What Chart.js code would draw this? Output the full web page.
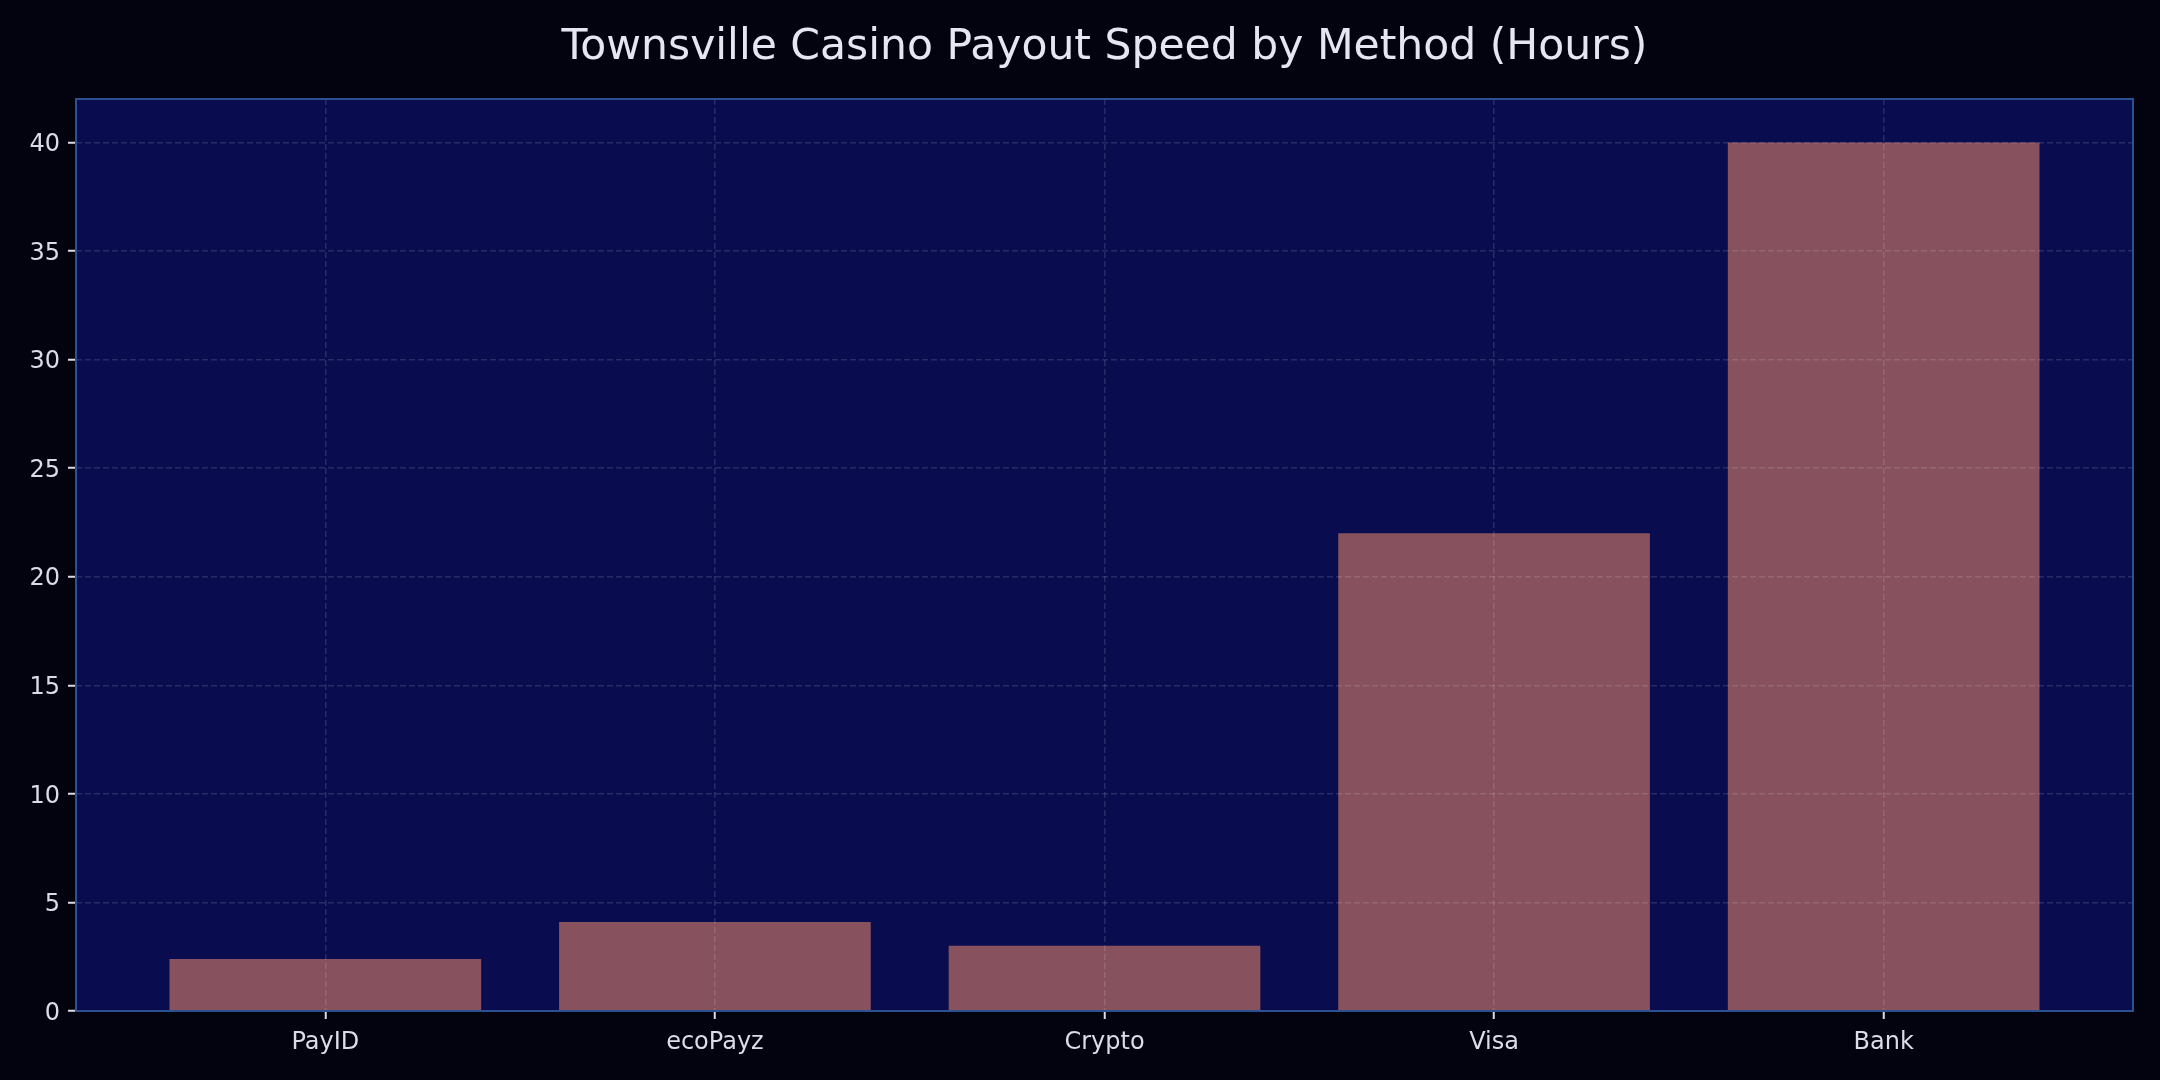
<!DOCTYPE html>
<html>
<head>
<meta charset="utf-8">
<title>Townsville Casino Payout Speed by Method</title>
<script src="https://cdn.jsdelivr.net/npm/chart.js@4.4.1/dist/chart.umd.min.js"></script>
<style>
  html, body { margin: 0; padding: 0; background: #03030f; }
  #chart { display: block; }
</style>
</head>
<body>
<canvas id="chart" width="2160" height="1080"></canvas>
<script>
// Data
const methods = ['PayID', 'ecoPayz', 'Crypto', 'Visa', 'Bank'];
const payoutHours = [2.4, 4.1, 3.0, 22, 40];
const yTicks = [0, 5, 10, 15, 20, 25, 30, 35, 40];

const FONT = "'DejaVu Sans', sans-serif";
const TEXT = '#dcdce8';
const FRAME = '#2c5190';
const GRID = 'rgba(255, 255, 255, 0.13)';

// Plot background + frame around the axes area
const plotFrame = {
  id: 'plotFrame',
  beforeDraw(chart) {
    const { ctx, chartArea: a } = chart;
    ctx.save();
    ctx.fillStyle = '#0a0c50';
    ctx.fillRect(a.left, a.top, a.right - a.left, a.bottom - a.top);
    ctx.restore();
  },
  afterDraw(chart) {
    const { ctx, chartArea: a } = chart;
    ctx.save();
    ctx.strokeStyle = FRAME;
    ctx.lineWidth = 2;
    ctx.strokeRect(a.left, a.top, a.right - a.left, a.bottom - a.top);
    ctx.restore();
  }
};

new Chart(document.getElementById('chart'), {
  type: 'bar',
  data: {
    datasets: [{
      data: methods.map((m, i) => ({ x: i, y: payoutHours[i] })),
      backgroundColor: '#87525e',
      borderWidth: 0,
      barPercentage: 0.8,
      categoryPercentage: 1.0
    }]
  },
  options: {
    responsive: false,
    devicePixelRatio: 1,
    animation: false,
    layout: { padding: { left: 0, right: 27, top: 0, bottom: 0 } },
    plugins: {
      legend: { display: false },
      tooltip: { enabled: false },
      title: {
        display: true,
        fullSize: false,   // centre over the plot area, like the reference
        text: 'Townsville Casino Payout Speed by Method (Hours)',
        color: '#e6e6f2',
        font: { family: FONT, size: 42.5, weight: 'normal', lineHeight: 1.2 },
        padding: { top: 22, bottom: 26 }
      }
    },
    scales: {
      x: {
        type: 'linear',
        min: -0.64,
        max: 4.64,
        offset: false,
        afterBuildTicks: (scale) => {
          scale.ticks = methods.map((m, i) => ({ value: i }));
        },
        afterFit: (scale) => { scale.height = 69; },
        ticks: {
          color: TEXT,
          font: { family: FONT, size: 24 },
          padding: 9,
          maxRotation: 0,
          autoSkip: false,
          callback: (v) => methods[v]
        },
        grid: {
          offset: false,
          color: GRID,
          lineWidth: 1.5,
          z: 1,
          tickColor: TEXT,
          tickLength: 8,
          tickWidth: 2,
          tickBorderDash: [0]
        },
        border: { display: false, dash: [6, 3] }
      },
      y: {
        min: 0,
        max: 42,
        afterBuildTicks: (scale) => {
          scale.ticks = yTicks.map(v => ({ value: v }));
        },
        afterFit: (scale) => { scale.width = 76; },
        ticks: {
          color: TEXT,
          font: { family: FONT, size: 24 },
          padding: 8,
          labelOffset: 2.5
        },
        grid: {
          color: GRID,
          lineWidth: 1.5,
          z: 1,
          tickColor: TEXT,
          tickLength: 8,
          tickWidth: 2,
          tickBorderDash: [0]
        },
        border: { display: false, dash: [6, 3] }
      }
    }
  },
  plugins: [plotFrame]
});
</script>
</body>
</html>
